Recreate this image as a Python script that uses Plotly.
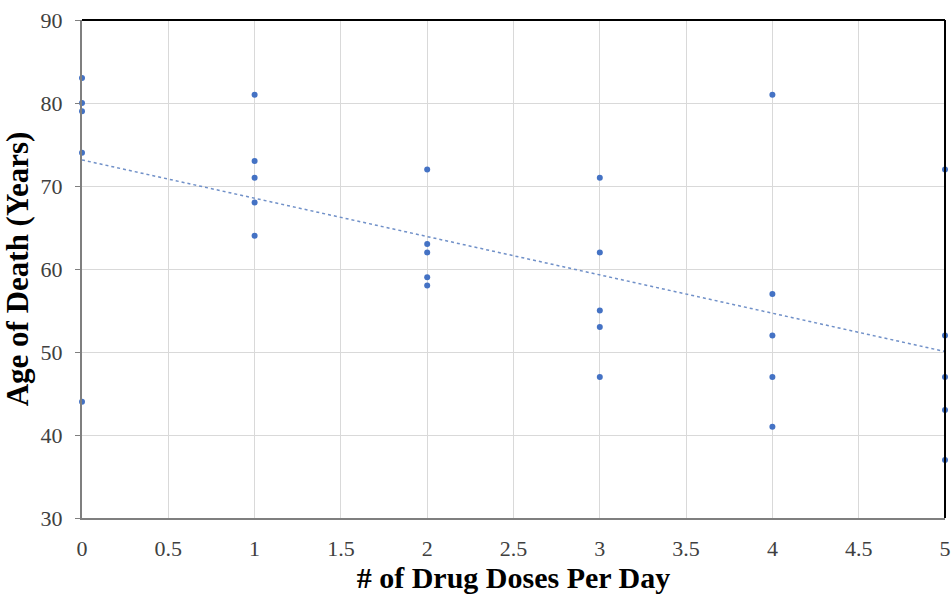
import numpy as np
import plotly.graph_objects as go

doses = [0, 0, 0, 0, 0,
         1, 1, 1, 1, 1,
         2, 2, 2, 2, 2,
         3, 3, 3, 3, 3,
         4, 4, 4, 4, 4,
         5, 5, 5, 5, 5]
ages = [83, 80, 79, 74, 44,
        81, 73, 71, 68, 64,
        72, 63, 62, 59, 58,
        71, 62, 55, 53, 47,
        81, 57, 52, 47, 41,
        72, 52, 47, 43, 37]

x_ticks = [0, 0.5, 1, 1.5, 2, 2.5, 3, 3.5, 4, 4.5, 5]
x_tick_text = ["0", "0.5", "1", "1.5", "2", "2.5", "3", "3.5", "4", "4.5", "5"]
y_ticks = [30, 40, 50, 60, 70, 80, 90]

slope, intercept = np.polyfit(doses, ages, 1)
trend_x = [0, 5]
trend_y = [intercept + slope * v for v in trend_x]

fig = go.Figure()
fig.add_trace(go.Scatter(
    x=trend_x, y=trend_y, mode="lines",
    line=dict(color="#7090c8", width=1.5, dash="dot"),
    hoverinfo="skip", showlegend=False, cliponaxis=False))
fig.add_trace(go.Scatter(
    x=doses, y=ages, mode="markers",
    marker=dict(color="#4472C4", size=6),
    showlegend=False, cliponaxis=False))

font_family = "Liberation Serif, Times New Roman, serif"
fig.update_layout(
    width=951, height=597,
    margin=dict(l=82, r=6, t=20, b=79, autoexpand=False),
    paper_bgcolor="white", plot_bgcolor="white",
    font=dict(family=font_family, color="#404040", size=22),
    xaxis=dict(
        range=[0, 5], tickvals=x_ticks, ticktext=x_tick_text,
        showgrid=True, gridcolor="#d9d9d9", gridwidth=1,
        showline=True, linecolor="#7f7f7f", linewidth=2,
        zeroline=False, ticks="", ticklabelstandoff=10, automargin=False,
        ticklabeloverflow="allow",
        tickfont=dict(size=22, color="#404040", family=font_family),
        title=dict(text="<b># of Drug Doses Per Day</b>", standoff=6,
                   font=dict(size=30, color="black", family=font_family)),
    ),
    yaxis=dict(
        range=[30, 90], tickvals=y_ticks,
        showgrid=True, gridcolor="#d9d9d9", gridwidth=1,
        showline=True, linecolor="#7f7f7f", linewidth=2,
        zeroline=False, ticks="outside", ticklen=5, tickcolor="#7f7f7f",
        ticklabelstandoff=8, automargin=False, ticklabeloverflow="allow",
        tickfont=dict(size=22, color="#404040", family=font_family),
        title=dict(text="<b>Age of Death (Years)</b>", standoff=6,
                   font=dict(size=31, color="black", family=font_family)),
    ),
    shapes=[
        dict(type="line", xref="paper", yref="paper", x0=0, x1=1, y0=1, y1=1,
             line=dict(color="black", width=2)),
        dict(type="line", xref="paper", yref="paper", x0=1, x1=1, y0=0, y1=1,
             line=dict(color="black", width=2)),
    ],
)

fig.write_html("out.html", config={"displayModeBar": False},
               post_script="document.body.style.margin='0';document.body.style.overflow='hidden';")
